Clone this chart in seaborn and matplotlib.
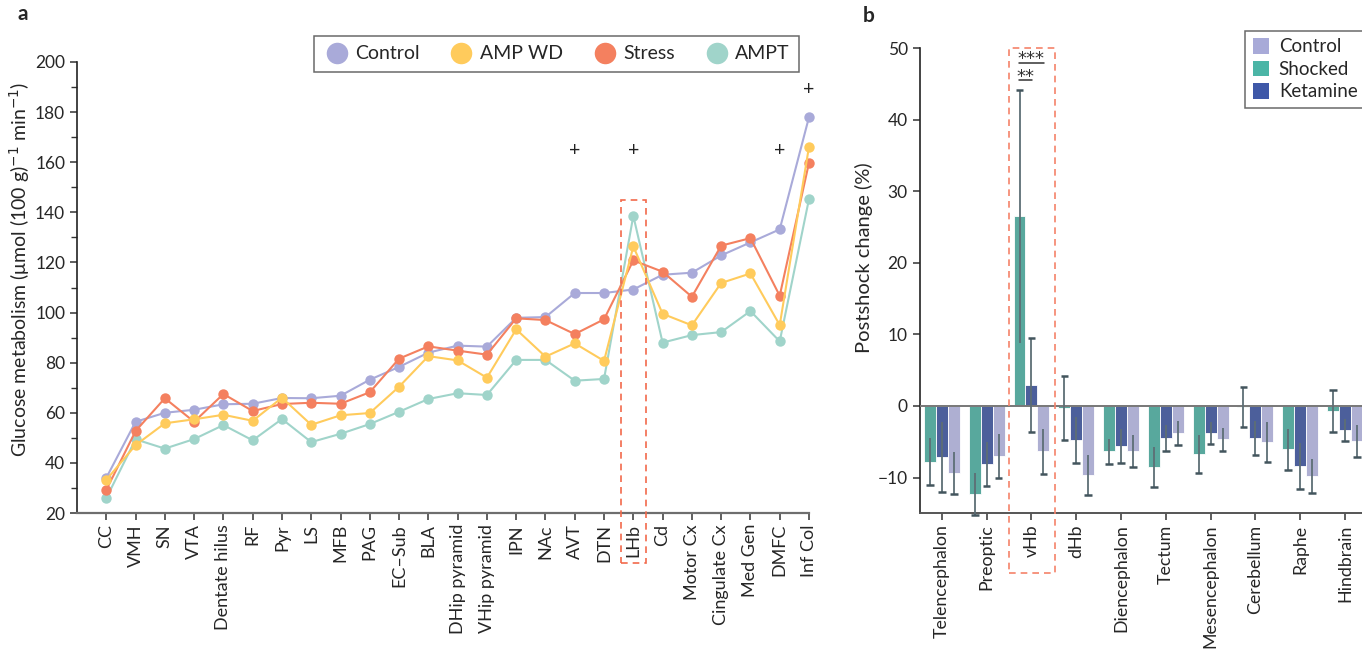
import numpy as np
import pandas as pd
import matplotlib
matplotlib.use("Agg")
import matplotlib.pyplot as plt
from matplotlib.patches import Rectangle
from matplotlib.lines import Line2D
from matplotlib.patches import Patch
import seaborn as sns

# ---------------- Panel a data ----------------
regions_a = ["CC", "VMH", "SN", "VTA", "Dentate hilus", "RF", "Pyr", "LS", "MFB", "PAG",
             "EC\u2013Sub", "BLA", "DHip pyramid", "VHip pyramid", "IPN", "NAc", "AVT", "DTN",
             "LHb", "Cd", "Motor Cx", "Cingulate Cx", "Med Gen", "DMFC", "Inf Col"]
control_a = [34, 56.4, 60.0, 61.2, 63.4, 63.6, 65.9, 65.8, 66.8, 73.2,
             78.3, 84.0, 86.8, 86.4, 97.9, 98.2, 107.8, 107.8,
             109.2, 115.1, 115.9, 122.8, 128.0, 133.2, 178.0]
ampwd_a = [33.2, 47.1, 55.8, 57.4, 59.2, 56.8, 66.0, 55.2, 59.0, 59.9,
           70.4, 82.6, 80.9, 74.0, 93.3, 82.4, 87.7, 80.7,
           126.4, 99.5, 94.9, 111.8, 115.6, 95.0, 166.2]
stress_a = [29.2, 52.7, 65.8, 56.4, 67.5, 60.7, 63.5, 64.0, 63.6, 68.2,
            81.6, 86.5, 84.8, 83.2, 97.7, 97.0, 91.4, 97.3,
            120.8, 116.3, 106.3, 126.7, 129.7, 106.7, 159.8]
ampt_a = [25.9, 49.4, 45.7, 49.5, 55.1, 49.0, 57.5, 48.3, 51.6, 55.5,
          60.4, 65.5, 67.8, 67.1, 81.1, 81.1, 72.8, 73.5,
          138.6, 88.0, 91.0, 92.2, 100.6, 88.5, 145.3]
plus_regions = ["AVT", "LHb", "DMFC", "Inf Col"]
plus_values = [164.5, 164.5, 164.5, 189.0]
series_a = ["Control", "AMP WD", "Stress", "AMPT"]
colors_a = {"Control": "#a9aad9", "AMP WD": "#ffcb5c", "Stress": "#f4805f", "AMPT": "#a0d4ca"}

# ---------------- Panel b data ----------------
regions_b = ["Telencephalon", "Preoptic", "vHb", "dHb", "Diencephalon", "Tectum",
             "Mesencephalon", "Cerebellum", "Raphe", "Hindbrain"]
shocked_b = [-7.8, -12.3, 26.5, -0.3, -6.3, -8.5, -6.7, -0.1, -6.05, -0.7]
shocked_err = [3.3, 2.9, 17.7, 4.45, 1.75, 2.8, 2.6, 2.8, 2.85, 2.87]
ketamine_b = [-7.1, -8.1, 2.9, -4.75, -5.55, -4.5, -3.8, -4.5, -8.4, -3.35]
ketamine_err = [4.9, 3.1, 6.6, 3.2, 2.4, 1.8, 1.5, 2.4, 3.25, 1.56]
control_b = [-9.4, -7.0, -6.3, -9.65, -6.3, -3.8, -4.65, -5.0, -9.8, -4.9]
control_err = [2.9, 3.05, 3.15, 2.8, 2.2, 1.65, 1.6, 2.8, 2.35, 2.2]
groups_b = ["Shocked", "Ketamine", "Control"]
legend_order_b = ["Control", "Shocked", "Ketamine"]
colors_b = {"Shocked": "#4bb5a6", "Ketamine": "#3f58a8", "Control": "#a8aad8"}

FONT = ["Lato", "DejaVu Sans"]
sns.set_theme(style="ticks")
plt.rcParams["font.family"] = FONT
plt.rcParams["axes.linewidth"] = 1.2

fig = plt.figure(figsize=(13.62, 6.49), dpi=100)
axA = fig.add_axes([77/1362, 1-513/649, (809-77)/1362, (513-62)/649])
axB = fig.add_axes([919.5/1362, 1-513.3/649, (1362-919.5)/1362, (513.3-48.3)/649])

# ---------- Panel a ----------
dfa = pd.DataFrame({
    "region": regions_a * 4,
    "value": control_a + ampwd_a + stress_a + ampt_a,
    "group": sum([[s] * len(regions_a) for s in series_a], []),
})
draw_order = ["Control", "AMPT", "Stress", "AMP WD"]
for g in draw_order:
    sub = dfa[dfa["group"] == g]
    sns.lineplot(data=sub, x="region", y="value", color=colors_a[g], marker="o",
                 markersize=7.5, markeredgewidth=0, linewidth=1.5, sort=False,
                 ax=axA, legend=False, clip_on=False)
axA.set_xlim(-1, len(regions_a) - 1)
axA.set_ylim(20, 200)
axA.set_yticks(np.arange(20, 201, 20))
axA.set_yticks(np.arange(30, 200, 20), minor=True)
axA.set_xticks(range(len(regions_a)))
axA.set_xticklabels(regions_a, rotation=90, fontsize=13)
axA.tick_params(axis="y", labelsize=12.5, length=5, width=1.1, color="#333333")
axA.tick_params(axis="y", which="minor", length=4, width=1.0, color="#333333")
axA.tick_params(axis="x", length=5, width=1.1, color="#333333", pad=3)
axA.set_xlabel("")
axA.set_ylabel("Glucose metabolism (\u03bcmol (100 g)$^{-1}$ min$^{-1}$)", fontsize=14)
axA.yaxis.set_label_coords(-0.062, 0.54)
sns.despine(ax=axA)
axA.spines["bottom"].set_color("#6e6e6e")
axA.spines["bottom"].set_linewidth(1.6)
axA.spines["left"].set_color("#222222")
for r, v in zip(plus_regions, plus_values):
    axA.text(regions_a.index(r), v, "+", ha="center", va="center", fontsize=14, color="#222222")
iL = regions_a.index("LHb")
axA.add_patch(Rectangle((iL - 0.42, 0.0), 0.84, 145, fill=False, edgecolor="#f26a4b",
                        linestyle=(0, (4, 3)), linewidth=1.2, clip_on=False, zorder=5))
handles_a = [Line2D([], [], marker="o", linestyle="", markersize=15.5, markeredgewidth=0,
                    color=colors_a[s]) for s in series_a]
legA = axA.legend(handles_a, series_a, ncol=4, loc="upper right", bbox_to_anchor=(1.0, 1.08),
                  frameon=True, fancybox=False, edgecolor="#444444", fontsize=14,
                  handletextpad=0.3, columnspacing=1.5, borderpad=0.5, handlelength=1.3)
legA.get_frame().set_linewidth(1.1)
fig.text(17/1362, 1-14/649, "a", fontsize=15, fontweight="bold", va="center", ha="left")

# ---------- Panel b ----------
dfb = pd.DataFrame({
    "region": regions_b * 3,
    "value": shocked_b + ketamine_b + control_b,
    "err": shocked_err + ketamine_err + control_err,
    "group": sum([[g] * len(regions_b) for g in groups_b], []),
})
sns.barplot(data=dfb, x="region", y="value", hue="group", hue_order=groups_b,
            palette=colors_b, errorbar=None, width=0.8, edgecolor="white", linewidth=0.6,
            ax=axB, legend=False, zorder=2)
nh = len(groups_b)
bw = 0.8 / nh
ecol = "#43555d"
for j, g in enumerate(groups_b):
    sub = dfb[dfb["group"] == g]
    xs = np.arange(len(regions_b)) + (j - (nh - 1) / 2) * bw
    vals = sub["value"].to_numpy()
    errs = sub["err"].to_numpy()
    lo = vals - errs
    hi = vals + errs
    axB.vlines(xs, lo, hi, color="#5d6e75", linewidth=1.3, zorder=4, clip_on=False)
    for x, v, l, h in zip(xs, vals, lo, hi):
        caps = [l] if v < 0 else [h]
        if l < 0 < h:
            caps = [l, h]
        for c in caps:
            axB.plot([x - 0.085, x + 0.085], [c, c], color=ecol, linewidth=1.8,
                     solid_capstyle="butt", zorder=5, clip_on=False)
axB.axhline(0, color="#777777", linewidth=1.4, zorder=3)
axB.set_xlim(-0.5, len(regions_b) - 0.62)
axB.set_ylim(-15, 50)
axB.set_yticks(np.arange(-10, 51, 10))
axB.set_yticklabels([("\u2212" + str(-t)) if t < 0 else str(t) for t in range(-10, 51, 10)])
axB.tick_params(axis="y", labelsize=12.5, length=5, width=1.1, color="#333333")
axB.tick_params(axis="x", labelsize=12.8, length=5, width=1.1, color="#333333", pad=3)
axB.set_xticks(range(len(regions_b)))
axB.set_xticklabels(regions_b, rotation=90)
axB.set_xlabel("")
axB.set_ylabel("Postshock change (%)", fontsize=14.5)
axB.yaxis.set_label_coords(-0.105, 0.55)
sns.despine(ax=axB)
axB.spines["bottom"].set_color("#555555")
axB.spines["bottom"].set_linewidth(1.4)
axB.spines["left"].set_color("#222222")
iv = regions_b.index("vHb")
axB.add_patch(Rectangle((iv - 0.51, -23.3), 1.03, 73.3, fill=False, edgecolor="#f5836a",
                        linestyle=(0, (4, 3)), linewidth=1.2, clip_on=False, zorder=6))
# significance markers
x_sh = iv - bw
x_ke = iv
x_co = iv + bw
axB.plot([x_sh - 0.01, x_co + 0.01], [47.9, 47.9], color="#333333", linewidth=1.1)
axB.text((x_sh + x_co) / 2, 47.75, "***", ha="center", va="baseline", fontsize=13,
         color="#333333", family=["DejaVu Sans"])
axB.plot([x_sh - 0.01, x_ke + 0.01], [45.5, 45.5], color="#333333", linewidth=1.1)
axB.text((x_sh + x_ke) / 2, 45.35, "**", ha="center", va="baseline", fontsize=13,
         color="#333333", family=["DejaVu Sans"])
handles_b = [Patch(facecolor=colors_b[g], edgecolor="none") for g in legend_order_b]
legB = axB.legend(handles_b, legend_order_b, loc="upper right", bbox_to_anchor=(1.028, 1.058),
                  frameon=True, fancybox=False, edgecolor="#444444", fontsize=13.5,
                  handlelength=0.9, handleheight=0.9, handletextpad=0.5, borderpad=0.4,
                  labelspacing=0.28)
legB.get_frame().set_linewidth(1.1)
fig.text(863/1362, 1-16/649, "b", fontsize=15, fontweight="bold", va="center", ha="left")

fig.savefig("out.png", dpi=100)
